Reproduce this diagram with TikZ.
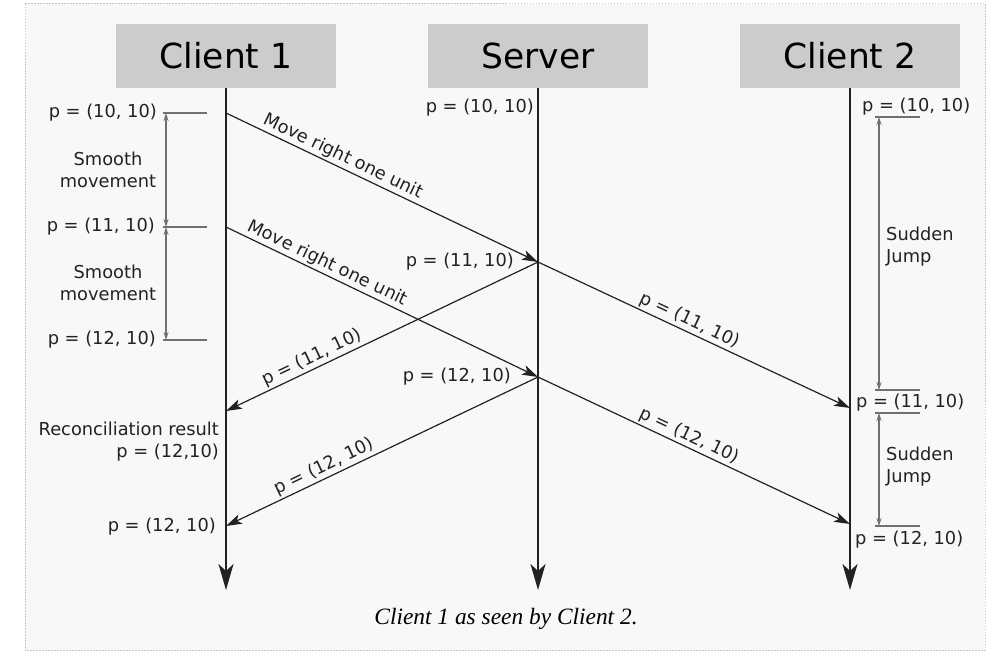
\documentclass[tikz,border=0pt]{standalone}
\usepackage{fontspec}
\setmainfont{DejaVu Sans}
\newfontfamily\capfont{Liberation Serif}
\usepackage{tikz}
\usepackage{xcolor}
\usetikzlibrary{arrows.meta,positioning}
\definecolor{boxgray}{RGB}{204,204,204}
\definecolor{pagebg}{RGB}{248,248,248}
\definecolor{inkdark}{RGB}{34,34,34}
\definecolor{tickgray}{RGB}{112,112,112}

\begin{document}
\begin{tikzpicture}[x=1pt, y=-1pt, >=Stealth,
  actor/.style={fill=boxgray, minimum width=220pt, minimum height=64pt, inner sep=0pt, text=black, font=\fontsize{34.5}{40}\selectfont},
  lbl/.style={inner sep=2pt, text=inkdark, font=\fontsize{17.8}{22}\selectfont},
  msg/.style={draw=inkdark, line width=1.2pt, -{Stealth[length=16pt, width=10pt, inset=4pt]}},
  life/.style={draw=inkdark, line width=2pt, -{Stealth[length=26pt, width=15pt, inset=7pt]}},
  tickline/.style={draw=tickgray, line width=1.2pt},
  dim/.style={draw=tickgray, line width=1.2pt, {Stealth[length=8pt, width=5pt]}-{Stealth[length=8pt, width=5pt]}}]
  \fill[white] (0,0) rectangle (1008,661);
  \useasboundingbox (0,0) rectangle (1008,661);
  \draw[fill=pagebg, draw=gray!45, line width=1pt, dash pattern=on 1.5pt off 1.5pt] (25,4) rectangle (985,650);

  \node[actor] (c1) at (226,56) {Client 1};
  \node[actor] (srv) at (538,56) {Server};
  \node[actor] (c2) at (850,56) {Client 2};
  \coordinate (c1end) at (226,590);
  \coordinate (srvend) at (538,590);
  \coordinate (c2end) at (850,590);
  \draw[life] (c1.south) -- (c1end);
  \draw[life] (srv.south) -- (srvend);
  \draw[life] (c2.south) -- (c2end);

  \coordinate (a1) at (226,113);
  \coordinate (a2) at (226,227);
  \coordinate (a4) at (226,411);
  \coordinate (a5) at (226,526);
  \coordinate (s1) at (538,262);
  \coordinate (s2) at (538,377);
  \coordinate (b1) at (850,408);
  \coordinate (b2) at (850,524);

  \draw[msg] (a1) -- node[lbl, sloped, above, pos=0.36] {Move right one unit} (s1);
  \draw[msg] (a2) -- node[lbl, sloped, above, pos=0.31] {Move right one unit} (s2);
  \draw[msg] (s1) -- node[lbl, sloped, above, pos=0.47] {p = (11, 10)} (b1);
  \draw[msg] (s2) -- node[lbl, sloped, above, pos=0.47] {p = (12, 10)} (b2);
  \draw[msg] (s1) -- node[lbl, sloped, above, pos=0.71] {p = (11, 10)} (a4);
  \draw[msg] (s2) -- node[lbl, sloped, above, pos=0.67] {p = (12, 10)} (a5);

  \node[lbl, anchor=east] (l1) at (159,113) {p = (10, 10)};
  \node[lbl, anchor=east] (l2) at (157,227) {p = (11, 10)};
  \node[lbl, anchor=east] (l3) at (158,340) {p = (12, 10)};
  \coordinate (t1a) at (163,113); \coordinate (t1b) at (207,113);
  \coordinate (t2a) at (163,227); \coordinate (t2b) at (207,227);
  \coordinate (t3a) at (163,340); \coordinate (t3b) at (207,340);
  \draw[tickline] (t1a) -- (t1b);
  \draw[tickline, line width=2.2pt] (t2a) -- (t2b);
  \draw[tickline] (t3a) -- (t3b);
  \coordinate (d1) at (166,113);
  \coordinate (d2) at (166,227);
  \coordinate (d3) at (166,340);
  \draw[dim] (d1) -- (d2);
  \draw[dim] (d2) -- (d3);
  \node[lbl, align=center] (sm1) at (108,170) {Smooth\\movement};
  \node[lbl, align=center] (sm2) at (108,283) {Smooth\\movement};

  \node[lbl, anchor=east] (sv1) at (536,108) {p = (10, 10)};
  \node[lbl, anchor=east] (sv2) at (516,262) {p = (11, 10)};
  \node[lbl, anchor=east] (sv3) at (513,377) {p = (12, 10)};

  \node[lbl, anchor=west] (r1) at (860,107) {p = (10, 10)};
  \node[lbl, anchor=west] (r2) at (854,403) {p = (11, 10)};
  \node[lbl, anchor=west] (r3) at (853,540) {p = (12, 10)};
  \coordinate (u1a) at (875,117); \coordinate (u1b) at (920,117);
  \coordinate (u2a) at (875,390); \coordinate (u2b) at (920,390);
  \coordinate (u3a) at (875,413); \coordinate (u3b) at (920,413);
  \coordinate (u4a) at (875,526); \coordinate (u4b) at (920,526);
  \draw[tickline] (u1a) -- (u1b);
  \draw[tickline] (u2a) -- (u2b);
  \draw[tickline] (u3a) -- (u3b);
  \draw[tickline] (u4a) -- (u4b);
  \coordinate (e1) at (879,117);
  \coordinate (e2) at (879,390);
  \coordinate (e3) at (879,413);
  \coordinate (e4) at (879,526);
  \draw[dim] (e1) -- (e2);
  \draw[dim] (e3) -- (e4);
  \node[lbl, anchor=west, align=left] (sj1) at (884,247) {Sudden\\Jump};
  \node[lbl, anchor=west, align=left] (sj2) at (884,467) {Sudden\\Jump};

  \node[lbl, anchor=east, align=right] (rec) at (221,442) {Reconciliation result\\p = (12,10)};
  \node[lbl, anchor=east] (fin) at (218,527) {p = (12, 10)};

  \node[font=\capfont\itshape\fontsize{23.4}{28}\selectfont] (cap) at (506,619) {Client 1 as seen by Client 2.};
\end{tikzpicture}
\end{document}
